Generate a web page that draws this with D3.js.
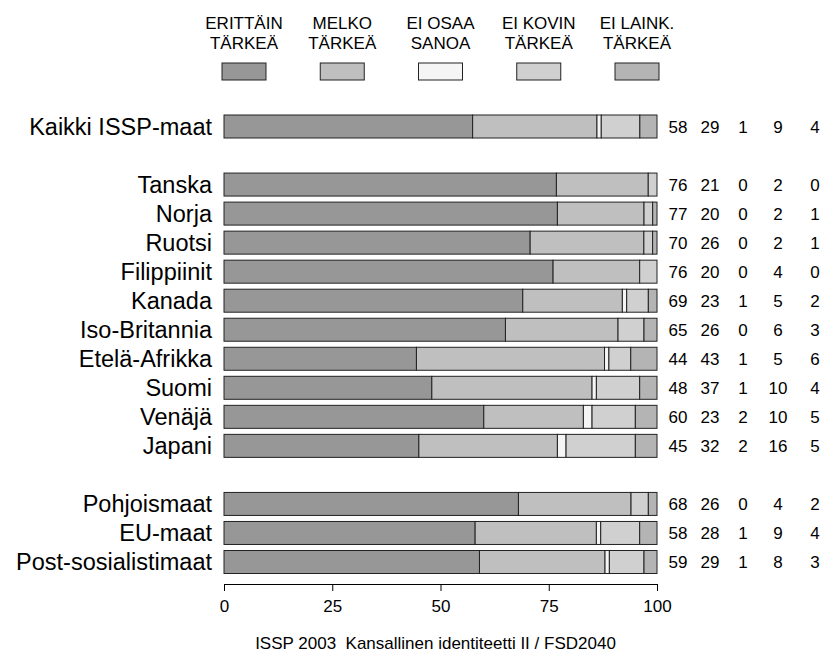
<!DOCTYPE html>
<html><head><meta charset="utf-8">
<script src="https://cdn.jsdelivr.net/npm/d3@7"></script>
<style>body{margin:0;background:#fff}svg{display:block}text{font-family:"Liberation Sans",Arial,sans-serif;fill:#000}</style>
</head><body><svg id="c" width="830" height="659"></svg>
<script>
const categories = ["Kaikki ISSP-maat","Tanska","Norja","Ruotsi","Filippiinit","Kanada","Iso-Britannia","Etelä-Afrikka","Suomi","Venäjä","Japani","Pohjoismaat","EU-maat","Post-sosialistimaat"];
const slots = [0,2,3,4,5,6,7,8,9,10,11,13,14,15];
const seriesNames = ["ERITTÄIN\nTÄRKEÄ","MELKO\nTÄRKEÄ","EI OSAA\nSANOA","EI KOVIN\nTÄRKEÄ","EI LAINK.\nTÄRKEÄ"];
const erittain = [58,76,77,70,76,69,65,44,48,60,45,68,58,59];
const melko    = [29,21,20,26,20,23,26,43,37,23,32,26,28,29];
const eiOsaa   = [1,0,0,0,0,1,0,1,1,2,2,0,1,1];
const eiKovin  = [9,2,2,2,4,5,6,5,10,10,16,4,9,8];
const eiLaink  = [4,0,1,1,0,2,3,6,4,5,5,2,4,3];
const tickLabels = ["0","25","50","75","100"];
const footer = "ISSP 2003  Kansallinen identiteetti II / FSD2040";
const colors = ["#979797","#bfbfbf","#f5f5f5","#d0d0d0","#b4b4b4"];

const svg = d3.select("#c");
const keys = ["a","b","c","d","e"];
const vals = [erittain,melko,eiOsaa,eiKovin,eiLaink];
const rows = categories.map((c,i)=>{const o={name:c,slot:slots[i]};keys.forEach((k,j)=>o[k]=vals[j][i]);return o;});
const stack = d3.stack().keys(keys).offset(d3.stackOffsetExpand)(rows);

const x = d3.scaleLinear().domain([0,1]).range([224,657]);
const y = d3.scaleLinear().domain([0,15]).range([126.5,562]);
const bh = 23;

stack.forEach((s,j)=>{
  svg.append("g").selectAll("rect").data(s).join("rect")
    .attr("x",d=>x(d[0])).attr("width",d=>x(d[1])-x(d[0]))
    .attr("y",d=>y(d.data.slot)-bh/2).attr("height",bh)
    .attr("fill",colors[j]).attr("stroke","#222").attr("stroke-width",1);
});

svg.append("g").selectAll("text").data(rows).join("text")
  .attr("x",212).attr("y",d=>y(d.slot)+8).attr("text-anchor","end")
  .style("font-size","23.5px").text(d=>d.name);

const colX = d3.scaleOrdinal().domain(keys).range([678,710,743,778,815]);
rows.forEach(r=>{
  keys.forEach(k=>{
    svg.append("text").attr("x",colX(k)).attr("y",y(r.slot)+6).attr("text-anchor","middle")
      .style("font-size","17px").text(r[k]);
  });
});

// legend
const lx = d3.scalePoint().domain(keys).range([244,637]);
keys.forEach((k,j)=>{
  const lines = seriesNames[j].split("\n");
  lines.forEach((l,li)=>svg.append("text").attr("x",lx(k)).attr("y",29+li*20).attr("text-anchor","middle").style("font-size","17px").text(l));
  svg.append("rect").attr("x",lx(k)-22).attr("y",63).attr("width",44).attr("height",17)
    .attr("fill",colors[j]).attr("stroke","#222").attr("stroke-width",1);
});

// axis
const ax = svg.append("g").attr("transform","translate(0,584)")
  .call(d3.axisBottom(x).tickValues([0,.25,.5,.75,1]).tickFormat((d,i)=>tickLabels[i]).tickSizeOuter(0).tickSize(7));
ax.select(".domain").attr("stroke","#000");
ax.selectAll("text").style("font-size","17px").attr("dy","1.05em").style("font-family","Liberation Sans, Arial, sans-serif");

svg.append("text").attr("x",435.5).attr("y",649).attr("text-anchor","middle").style("font-size","17px").style("white-space","pre").text(footer);
</script></body></html>
